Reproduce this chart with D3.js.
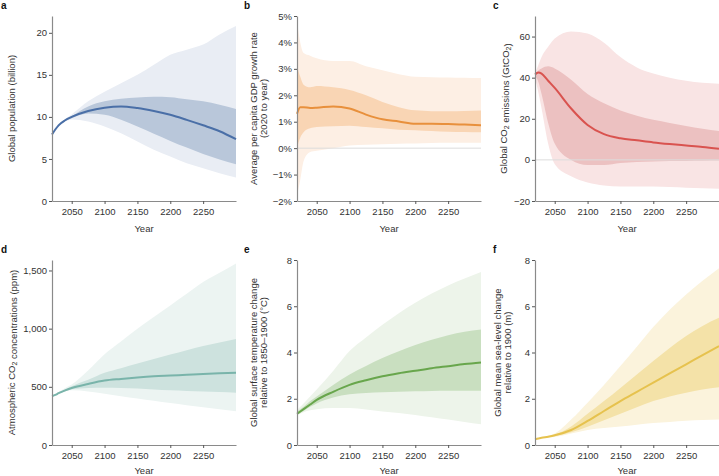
<!DOCTYPE html>
<html>
<head>
<meta charset="utf-8">
<script src="https://cdn.jsdelivr.net/npm/d3@7"></script>
<style>
  body { margin: 0; background: #fff; }
  svg { font-family: "Liberation Sans", Arial, sans-serif; }
</style>
</head>
<body>
<div class="chart"></div>
<script>
// years sampled for every panel
const years = [2020, 2025, 2030, 2040, 2050, 2075, 2100, 2125, 2150, 2175, 2200, 2225, 2250, 2275, 2300]
const xTicks = [2050, 2100, 2150, 2200, 2250]

// a: population (billion)
const popMed  = [7.9, 8.5, 9.0, 9.6, 10.0, 10.7, 11.1, 11.25, 11.05, 10.7, 10.25, 9.65, 9.0, 8.3, 7.35]
const popHi50 = [7.9, 8.5, 9.0, 9.65, 10.1, 11.25, 11.85, 12.15, 12.3, 12.4, 12.35, 12.1, 11.85, 11.45, 10.95]
const popLo50 = [7.9, 8.5, 8.95, 9.5, 9.85, 10.4, 10.25, 9.65, 8.85, 8.0, 7.15, 6.35, 5.6, 4.95, 4.37]
const popHi90 = [7.9, 8.55, 9.05, 9.75, 10.3, 11.85, 13.0, 14.0, 15.0, 16.2, 17.4, 18.0, 18.6, 19.8, 20.8]
const popLo90 = [7.9, 8.45, 8.9, 9.45, 9.7, 9.45, 8.87, 8.07, 7.08, 6.08, 5.29, 4.5, 3.9, 3.3, 2.8]

// b: GDP growth rate (%)
const gdpMed  = [1.3, 1.55, 1.55, 1.52, 1.53, 1.58, 1.5, 1.27, 1.09, 1.01, 0.92, 0.92, 0.91, 0.89, 0.87]
const gdpHi50 = [3.1, 2.7, 2.4, 2.3, 2.35, 2.3, 2.2, 2.0, 1.75, 1.55, 1.43, 1.4, 1.4, 1.41, 1.42]
const gdpLo50 = [0.0, 0.4, 0.6, 0.75, 0.8, 0.83, 0.85, 0.8, 0.75, 0.7, 0.68, 0.65, 0.62, 0.61, 0.6]
const gdpHi90 = [4.8, 4.0, 3.6, 3.5, 3.4, 3.3, 3.3, 3.1, 2.95, 2.8, 2.7, 2.68, 2.67, 2.66, 2.65]
const gdpLo90 = [-1.8, -1.2, -0.5, -0.15, -0.1, 0.0, 0.1, 0.13, 0.15, 0.17, 0.18, 0.19, 0.2, 0.2, 0.2]

// c: CO2 emissions (GtCO2)
const emiMed  = [41.5, 42.5, 42, 38.5, 35, 25, 17, 12.5, 10.5, 9.5, 8.5, 7.7, 7, 6.3, 5.4]
const emiHi50 = [41.5, 43.5, 44.5, 45.5, 44.5, 39, 32, 27.5, 24, 21.5, 19.5, 18, 16.5, 15.2, 14]
const emiLo50 = [41, 38, 32, 18, 8, 0, -2.5, -2.5, -1.5, -1, -0.8, -0.6, -0.5, -0.4, -0.3]
const emiHi90 = [42, 46, 50, 55, 59, 62.5, 61.5, 57, 50, 45, 42, 40, 38.5, 37.5, 37]
const emiLo90 = [40, 33, 25, 8, -2, -8, -11, -12.5, -13, -13, -13, -13.2, -13.5, -13.8, -14]

// d: CO2 concentration (ppm)
const ppmMed  = [418, 430, 445, 470, 490, 525, 554, 568, 580, 590, 597, 604, 611, 616, 620]
const ppmHi50 = [418, 432, 448, 478, 505, 560, 620, 660, 700, 740, 778, 815, 850, 882, 912]
const ppmLo50 = [418, 428, 442, 462, 480, 490, 493, 490, 485, 478, 470, 465, 460, 455, 450]
const ppmHi90 = [418, 435, 455, 490, 520, 640, 780, 890, 1000, 1100, 1200, 1300, 1400, 1480, 1560]
const ppmLo90 = [418, 426, 440, 460, 470, 460, 440, 420, 400, 380, 360, 342, 325, 308, 290]

// e: temperature change (°C)
const tmpMed  = [1.35, 1.45, 1.55, 1.75, 1.95, 2.3, 2.6, 2.8, 2.97, 3.1, 3.21, 3.32, 3.41, 3.5, 3.57]
const tmpHi50 = [1.45, 1.55, 1.65, 1.9, 2.1, 2.6, 3.05, 3.42, 3.76, 4.05, 4.32, 4.55, 4.75, 4.9, 5.0]
const tmpLo50 = [1.3, 1.38, 1.47, 1.65, 1.8, 2.05, 2.19, 2.25, 2.28, 2.3, 2.32, 2.34, 2.35, 2.35, 2.35]
const tmpHi90 = [1.5, 1.65, 1.8, 2.1, 2.4, 3.2, 4.06, 4.65, 5.2, 5.7, 6.15, 6.55, 6.9, 7.2, 7.48]
const tmpLo90 = [1.3, 1.35, 1.42, 1.5, 1.55, 1.6, 1.6, 1.53, 1.45, 1.38, 1.3, 1.2, 1.1, 1.0, 0.9]

// f: sea-level change (m)
const slrMed  = [0.25, 0.28, 0.31, 0.36, 0.42, 0.65, 1.04, 1.47, 1.9, 2.3, 2.7, 3.1, 3.49, 3.89, 4.28]
const slrHi50 = [0.25, 0.28, 0.31, 0.37, 0.45, 0.8, 1.35, 1.9, 2.47, 3.05, 3.63, 4.2, 4.71, 5.15, 5.5]
const slrLo50 = [0.25, 0.28, 0.3, 0.34, 0.38, 0.55, 0.79, 1.07, 1.35, 1.63, 1.9, 2.1, 2.26, 2.4, 2.5]
const slrHi90 = [0.25, 0.28, 0.32, 0.4, 0.5, 1.1, 1.83, 2.6, 3.42, 4.25, 5.1, 5.85, 6.51, 7.1, 7.64]
const slrLo90 = [0.25, 0.27, 0.3, 0.33, 0.35, 0.5, 0.65, 0.73, 0.8, 0.88, 0.95, 1.0, 1.05, 1.08, 1.1]

const minus = (s) => s.replace("-", "\u2212")

const panels = [
  { letter: "a", col: 0, row: 0, domain: [0, 22], ticks: [0, 5, 10, 15, 20], fmt: (d) => d,
    med: popMed, hi50: popHi50, lo50: popLo50, hi90: popHi90, lo90: popLo90,
    line: "#4a6fa7", inner: "#b9c7da", outer: "#e9edf4",
    label: [["Global population (billion)"]], labelX: [-37] },
  { letter: "b", col: 1, row: 0, domain: [-2, 5], ticks: [-2, -1, 0, 1, 2, 3, 4, 5], fmt: (d) => minus(d + "%"),
    med: gdpMed, hi50: gdpHi50, lo50: gdpLo50, hi90: gdpHi90, lo90: gdpLo90, zero: true,
    line: "#e8903c", inner: "#f9d5b4", outer: "#fdefe4",
    label: [["Average per capita GDP growth rate"], ["(2020 to year)"]], labelX: [-40, -30] },
  { letter: "c", col: 2, row: 0, domain: [-20, 70], ticks: [-20, 0, 20, 40, 60], fmt: (d) => minus(String(d)),
    med: emiMed, hi50: emiHi50, lo50: emiLo50, hi90: emiHi90, lo90: emiLo90, zero: true,
    line: "#d9534f", inner: "#ecc1c1", outer: "#f9e4e4",
    label: [["Global CO", ["2"], " emissions (GtCO", ["2"], ")"]], labelX: [-28] },
  { letter: "d", col: 0, row: 1, domain: [0, 1590], ticks: [0, 500, 1000, 1500], fmt: d3.format(","),
    med: ppmMed, hi50: ppmHi50, lo50: ppmLo50, hi90: ppmHi90, lo90: ppmLo90,
    line: "#79b4aa", inner: "#cde2de", outer: "#ecf4f2",
    label: [["Atmospheric CO", ["2"], " concentrations (ppm)"]], labelX: [-37] },
  { letter: "e", col: 1, row: 1, domain: [0, 8], ticks: [0, 2, 4, 6, 8], fmt: (d) => d,
    med: tmpMed, hi50: tmpHi50, lo50: tmpLo50, hi90: tmpHi90, lo90: tmpLo90,
    line: "#68a64c", inner: "#c9dfc0", outer: "#edf4ea",
    label: [["Global surface temperature change"], ["relative to 1850\u20131900 (\u00b0C)"]], labelX: [-40, -30] },
  { letter: "f", col: 2, row: 1, domain: [0, 8], ticks: [0, 2, 4, 6, 8], fmt: (d) => d,
    med: slrMed, hi50: slrHi50, lo50: slrLo50, hi90: slrHi90, lo90: slrLo90,
    line: "#e6c24e", inner: "#f4e2a8", outer: "#fbf3dc",
    label: [["Global mean sea-level change"], ["relative to 1900 (m)"]], labelX: [-34, -24] },
]

const colX = [52, 297, 535]
const letterX = [1, 244, 493]
const rowTop = [16, 260]
const rowBottom = [201, 445]
const yearY = [232, 474]
const plotW = 184
const axisColor = "#8a8a8a"
const textColor = "#333"

const svg = d3.select(".chart").append("svg")
  .attr("width", 719)
  .attr("height", 476)
  .attr("viewBox", "0 0 719 476")

panels.forEach((p) => {
  const x0 = colX[p.col]
  const top = rowTop[p.row]
  const bottom = rowBottom[p.row]

  const scaleX = d3.scaleLinear().domain([2020, 2300]).range([x0, x0 + plotW])
  const scaleY = d3.scaleLinear().domain(p.domain).range([bottom, top])

  const g = svg.append("g")

  const band = (lo, hi) => d3.area()
    .x((d, i) => scaleX(years[i]))
    .y0((d, i) => scaleY(lo[i]))
    .y1((d, i) => scaleY(hi[i]))
    .curve(d3.curveMonotoneX)(years)

  // 90% and 50% ranges
  g.append("path").attr("d", band(p.lo90, p.hi90)).attr("fill", p.outer)
  g.append("path").attr("d", band(p.lo50, p.hi50)).attr("fill", p.inner)

  // zero line
  if (p.zero) {
    g.append("line")
      .attr("x1", x0).attr("x2", x0 + plotW)
      .attr("y1", scaleY(0)).attr("y2", scaleY(0))
      .attr("stroke", "#dcdcdc").attr("stroke-width", 1)
  }

  // median
  g.append("path")
    .attr("d", d3.line()
      .x((d, i) => scaleX(years[i]))
      .y((d) => scaleY(d))
      .curve(d3.curveMonotoneX)(p.med))
    .attr("fill", "none")
    .attr("stroke", p.line)
    .attr("stroke-width", 2)

  // axes
  const ax = g.append("g")
    .attr("transform", `translate(0,${bottom})`)
    .call(d3.axisBottom(scaleX).tickValues(xTicks).tickFormat(d3.format("d")).tickSize(3).tickSizeOuter(0).tickPadding(4))
  const ay = g.append("g")
    .attr("transform", `translate(${x0},0)`)
    .call(d3.axisLeft(scaleY).tickValues(p.ticks).tickFormat(p.fmt).tickSize(3).tickSizeOuter(0).tickPadding(2))

  ;[ax, ay].forEach((a) => {
    a.select(".domain").attr("stroke", axisColor).attr("stroke-width", 1.2)
    a.selectAll(".tick line").attr("stroke", "#555")
    a.selectAll("text").attr("fill", textColor).attr("font-size", 9.5).attr("font-family", "Liberation Sans, Arial, sans-serif")
  })

  // x title
  g.append("text")
    .attr("x", scaleX(2160))
    .attr("y", yearY[p.row])
    .attr("text-anchor", "middle")
    .attr("font-size", 9.5)
    .attr("fill", textColor)
    .text("Year")

  // y title (may have two lines and subscripts)
  p.label.forEach((parts, li) => {
    const t = g.append("text")
      .attr("transform", `translate(${x0 + p.labelX[li]},${(top + bottom) / 2}) rotate(-90)`)
      .attr("text-anchor", "middle")
      .attr("font-size", 9.5)
      .attr("fill", textColor)
    parts.forEach((part) => {
      if (Array.isArray(part)) {
        t.append("tspan").attr("font-size", 7).attr("dy", 2).text(part[0])
        t.append("tspan").attr("dy", -2).text("")
      } else {
        t.append("tspan").text(part)
      }
    })
  })

  // panel letter
  svg.append("text")
    .attr("x", letterX[p.col])
    .attr("y", p.row === 0 ? 9 : 253)
    .attr("font-size", 10)
    .attr("font-weight", "bold")
    .attr("fill", "#111")
    .text(p.letter)
})
</script>
</body>
</html>
